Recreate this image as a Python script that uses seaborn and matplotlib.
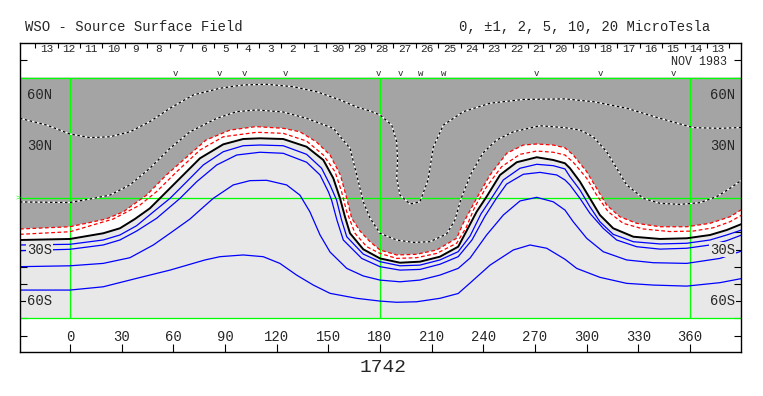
import matplotlib
matplotlib.use("Agg")
import matplotlib.pyplot as plt
import seaborn as sns

# WSO source surface field, Carrington rotation 1742
# contour lines: longitude (deg) / latitude (deg)

# -10 microtesla (dotted)
LON_NEG10 = [-29, -13.5, 0, 11.6, 23.2, 34.8, 46.4, 58.1, 71.6, 87.1, 100.6, 114.2, 129.6, 143.2,
             156.8, 166.5, 174.2, 180, 186.8, 189.7, 190.2, 189.7, 191.6, 197.4, 203.2, 207.9, 211,
             216.8, 228.4, 243.9, 263.2, 287.4, 303.8, 323.2, 342.6, 361.9, 377.4, 390]
LAT_NEG10 = [46.3, 42.4, 37.2, 35.1, 35.6, 38.5, 44.4, 52.2, 59.9, 63.8, 65.7, 66.1, 64.7, 61.8,
             57.0, 52.9, 50.6, 48.3, 42.4, 32.7, 22.1, 11.6, 1.7, -3.5, -2.2, 10.5, 29.7,
             42.4, 50.2, 55.1, 57.3, 57.6, 56.0, 52.2, 46.3, 40.9, 40.5, 41.0]

# -5 microtesla (dotted)
LON_NEG5 = [-29, 0, 11.6, 23.2, 34.8, 46.4, 58.1, 69.7, 85.2, 96.8, 108.4, 123.8, 137.4, 152.9,
            162.6, 166.5, 170.3, 174.2, 180, 189.7, 199.3, 209, 218.7, 223.5, 227, 232.8, 239.8,
            247.7, 257.4, 272.9, 287.4, 296.1, 303.8, 311.6, 317.4, 323.2, 332.9, 342.6, 354.2,
            365.8, 375.5, 383.2, 390]
LAT_NEG5 = [-2.3, -2.6, -0.6, 1.7, 7.6, 17.3, 28.9, 38.5, 46.3, 50.2, 51.2, 50.0, 46.3, 40.5,
            28.9, 13.4, -2.2, -11.6, -20.5, -24.4, -25.8, -25.4, -20.9, -12.8, -0.6, 14.0, 26.2,
            33.7, 38.5, 42.0, 40.9, 39.5, 35.6, 26.9, 17.3, 7.6, -0.2, -3.1, -3.7,
            -2.7, 0.8, 5.6, 10.5]

# -2 microtesla (red dashed, edge of the dark area)
LON_NEG2 = [-29, 0, 21, 31, 44.5, 56, 68, 79, 93, 108, 124, 133.5, 143, 151, 157, 160.7, 163.6,
            168.4, 174.2, 180, 189.7, 201.3, 212.9, 224.5, 228.4, 236.1, 243.9, 253.6, 263.2, 271,
            280.6, 287.4, 292.2, 300, 305.8, 311.6, 319.3, 329, 342.6, 358.1, 371.6, 383.2, 390]
LAT_NEG2 = [-18.0, -16.7, -12.2, -8.0, 1.7, 13.4, 24.0, 33.7, 39.5, 41.5, 40.5, 38.5, 32.7, 25.0,
            13.4, -0.2, -11.8, -19.2, -25.4, -30.2, -33.1, -32.7, -30.2, -23.4, -14.5, -0.2, 13.4,
            26.0, 30.8, 31.4, 30.8, 29.2, 25.0, 15.3, 5.6, -4.1, -10.9, -14.7, -16.7, -16.7, -14.7,
            -10.9, -6.7]

# -1 microtesla (red dashed)
LON_NEG1 = [-29, 0, 25.1, 40.6, 50.3, 62, 75.5, 89, 108.4, 123.8, 137.4, 147.1, 153.9, 157.7,
            160.7, 165.5, 172.3, 180, 189.7, 201.3, 212.9, 224.5, 229.9, 235.1, 241.9, 250.6,
            261.3, 271, 280.6, 287.4, 292.2, 300, 305.8, 312.5, 321.2, 332.9, 348.4, 361.9, 373.5,
            383.2, 390]
LAT_NEG1 = [-21.1, -19.6, -12.2, -4.1, 3.7, 15.3, 27.9, 35.6, 38.2, 37.6, 33.1, 25.0, 15.3, 3.7,
            -8.0, -20.5, -28.3, -32.2, -35.1, -34.7, -32.2, -26.3, -17.4, -5.1, 6.6, 18.2,
            25.4, 27.3, 26.6, 25.0, 20.8, 11.5, 1.7, -8.0, -14.7, -18.0, -19.5, -19.2, -17.3,
            -13.8, -9.9]

# neutral line
LON_ZERO = [-29, 0, 19.3, 29, 37.7, 46.4, 56.1, 65.8, 75.5, 89, 100.6, 110.3, 123.8, 137.4, 147.1,
            152.9, 156.8, 159.7, 162.6, 170.3, 180, 191.6, 203.2, 214.8, 225.4, 229.9, 236.1,
            241.9, 249.7, 259.4, 271, 280.6, 287.4, 290.3, 296.1, 301.9, 307.7, 315.4, 327.1,
            342.6, 358.1, 371.6, 381.3, 390]
LAT_ZERO = [-24.4, -23.8, -20.5, -17.6, -12.2, -6.0, 3.7, 13.4, 23.1, 31.2, 34.3, 34.7, 34.3, 29.8,
            22.1, 11.5, -0.2, -11.0, -20.5, -29.8, -35.1, -37.6, -37.0, -34.1, -28.3, -19.8, -8.0,
            0.8, 13.4, 20.8, 23.7, 22.1, 20.2, 17.3, 9.5, -0.2, -9.9, -17.6, -22.5,
            -23.8, -23.4, -21.5, -18.6, -15.1]

# +1 microtesla
LON_POS1 = [-29, 0, 19.3, 29, 38.7, 48.4, 58.1, 67.8, 77.4, 89, 100.6, 110.3, 123.8, 137.4, 146.1,
            151, 154.8, 157.7, 160.7, 170.3, 180, 191.6, 203.2, 214.8, 225.4, 232.3, 238.6, 244.8,
            251.6, 261.3, 271, 280.6, 287.4, 290.3, 296.1, 301.9, 307.7, 315.4, 327.1, 342.6,
            358.1, 371.6, 381.3, 390]
LAT_POS1 = [-27.3, -26.9, -24.4, -21.5, -16.1, -8.1, -0.2, 9.5, 19.2, 26.9, 30.4, 30.8, 30.4, 25.4,
            17.3, 7.6, -1.2, -12.8, -22.5, -32.6, -37.0, -39.4, -39.0, -36.0, -31.2, -22.1, -9.3,
            0.0, 10.5, 17.3, 19.6, 18.8, 16.9, 12.4, 4.7, -5.1, -13.8, -21.1, -25.4, -26.7,
            -26.3, -24.4, -21.5, -18.6]

# +2 microtesla
LON_POS2 = [-29, 0, 19.3, 29, 38.7, 50.3, 63.9, 73.6, 85.2, 96.8, 110.3, 123.8, 137.4, 145.2, 150,
            151.9, 155, 158.7, 169.4, 180, 191.6, 203.2, 214.8, 225.4, 233.4, 241, 247.7, 253.5,
            263.2, 272.9, 282.6, 287.4, 290.3, 296.1, 301.9, 309.6, 317.4, 329, 342.6, 358.1,
            371.6, 381.3, 390]
LAT_POS2 = [-30.6, -29.8, -27.3, -24.4, -19.2, -11.8, -0.2, 9.5, 19.2, 25.0, 26.6, 26.0, 20.8, 13.4,
            3.7, -1.2, -12.8, -24.4, -35.1, -39.9, -41.9, -41.5, -38.5, -34.1, -24.4, -10.5, 0.0,
            8.1, 13.8, 14.9, 13.4, 10.5, 7.6, -0.2, -8.9, -17.6, -24.4, -28.3, -29.7, -29.2,
            -27.3, -24.8, -21.5]

# +5 microtesla
LON_POS5 = [-29, 0, 19.3, 34.8, 48.4, 58.1, 69.7, 75.5, 83.2, 94.8, 104.5, 114.2, 125.8, 133.5,
            139.3, 145.2, 151, 160.7, 170.3, 180, 191.6, 203.2, 214.8, 225.4, 232.3, 241.9, 251.6,
            261.3, 271, 280.6, 287.4, 292.2, 300, 309.6, 323.2, 338.7, 358.1, 377.4, 390]
LAT_POS5 = [-39.9, -39.4, -38.0, -34.7, -27.3, -20.5, -12.2, -7.0, -0.2, 7.6, 10.1, 10.3, 7.6, 1.7,
            -8.0, -21.5, -31.4, -40.9, -45.3, -47.7, -48.7, -47.7, -44.8, -40.9, -34.9, -21.5,
            -9.9, -1.7, 0.4, -2.2, -7.0, -13.8, -23.4, -31.2, -36.0, -37.6, -38.0, -35.1, -30.8]

# +10 microtesla
LON_POS10 = [-29, 0, 19.3, 38.7, 58.1, 78.4, 87.1, 100.6, 112.2, 121.9, 131.6, 141.3, 151, 166.5,
             180, 189.7, 201.3, 214.8, 225.4, 232.3, 243.9, 257.4, 267.1, 276.8, 287.4, 294.2,
             307.7, 323.2, 338.7, 358.1, 377.4, 390]
LAT_POS10 = [-53.5, -53.5, -51.6, -46.7, -41.9, -36.0, -34.1, -33.1, -34.1, -38.0, -44.8, -50.6,
             -55.4, -58.3, -59.9, -60.6, -60.3, -58.3, -55.5, -49.4, -39.0, -30.2, -27.3, -29.2,
             -35.6, -40.9, -46.1, -49.6, -50.6, -51.2, -49.2, -46.8]

# axis labels
X_TICKS = [0, 30, 60, 90, 120, 150, 180, 210, 240, 270, 300, 330, 360]
LAT_TICKS = [60, 30, -30, -60]
LAT_LABELS = ['60N', '30N', '30S', '60S']
DAY_LABELS = [13, 12, 11, 10, 9, 8, 7, 6, 5, 4, 3, 2, 1,
              30, 29, 28, 27, 26, 25, 24, 23, 22, 21, 20, 19, 18, 17, 16, 15, 14, 13]
MARK_LON = [61.0, 86.7, 101.2, 124.8, 179.0, 192.0, 203.6, 216.8, 271.0, 308.1, 350.3]
MARK_SYM = ['v', 'v', 'v', 'v', 'v', 'v', 'w', 'w', 'v', 'v', 'v']

DARK = '#A4A4A4'
LIGHT = '#E8E8E8'
GREEN = '#00FF00'

sns.set_style("white")
plt.rcParams['font.family'] = ['Liberation Mono', 'DejaVu Sans']

fig = plt.figure(figsize=(7.63, 3.96), dpi=100)
ax = fig.add_axes([20 / 763, 44 / 396, 721 / 763, 309 / 396])
ax.set_xlim(-29, 389.6)
ax.set_ylim(-89.5, 90.1)

# shading: positive light, 0..-2 white, below -2 dark
ax.axhspan(-70, 70, color=LIGHT, lw=0, zorder=0)
ax.fill(LON_NEG2 + [390, -29], LAT_NEG2 + [70, 70], color=DARK, lw=0, zorder=1)
ax.fill(LON_NEG2 + LON_ZERO[::-1], LAT_NEG2 + LAT_ZERO[::-1], color='white', lw=0, zorder=1)

# grid lines
for lat in [70, 0, -70]:
    ax.axhline(lat, color=GREEN, lw=0.9, zorder=2)
ax.vlines([0, 180, 360], -70, 70, color=GREEN, lw=0.9, zorder=2)


def contour(lon, lat, **kw):
    sns.lineplot(x=lon, y=lat, sort=False, estimator=None, ax=ax,
                 solid_joinstyle='round', dash_joinstyle='round', **kw)


for lon, lat in [(LON_NEG10, LAT_NEG10), (LON_NEG5, LAT_NEG5)]:
    contour(lon, lat, color='white', linewidth=0.9, zorder=3)
    contour(lon, lat, color='black', linewidth=0.9, linestyle=(0, (2, 2)), zorder=3)
for lon, lat in [(LON_NEG2, LAT_NEG2), (LON_NEG1, LAT_NEG1)]:
    contour(lon, lat, color='red', linewidth=0.9, linestyle=(0, (3, 2)), zorder=3)
for lon, lat in [(LON_POS1, LAT_POS1), (LON_POS2, LAT_POS2), (LON_POS5, LAT_POS5),
                 (LON_POS10, LAT_POS10)]:
    contour(lon, lat, color='blue', linewidth=0.9, zorder=3)
contour(LON_ZERO, LAT_ZERO, color='black', linewidth=1.4, zorder=3)

# ticks
ax.set_xticks(X_TICKS)
ax.set_yticks(range(-80, 90, 10))
ax.tick_params(axis='x', direction='in', length=5.8, width=0.8, color='black',
               bottom=True, top=False, labelbottom=False)
ax.tick_params(axis='y', direction='in', length=4.8, width=0.8, color='black',
               left=True, right=True, labelleft=False, labelright=False)
for s in ax.spines.values():
    s.set_color('black')
    s.set_linewidth(1.0)
    s.set_zorder(6)

for x in X_TICKS:
    ax.text(x, -81, str(x), ha='center', va='center', fontsize=10, zorder=5)

for lat, lab in zip(LAT_TICKS, LAT_LABELS):
    fc = DARK if lat > 0 else LIGHT
    box = dict(boxstyle='square,pad=0.05', fc=fc, ec='none')
    ax.text(-25, lat, lab, ha='left', va='center', fontsize=10, bbox=box, zorder=5)
    ax.text(386.1, lat, lab, ha='right', va='center', fontsize=10, bbox=box, zorder=5)

# day-of-month strip along the top
day0, day_step = -13.7, 13.0
for i, d in enumerate(DAY_LABELS):
    ax.text(day0 + i * day_step, 86.6, str(d), ha='center', va='center', fontsize=8, zorder=5)
ax.vlines([day0 + (i - 0.5) * day_step for i in range(len(DAY_LABELS) + 1)], 87.0, 90.1,
          color='black', lw=0.8, zorder=5)
ax.text(381.5, 79.0, 'NOV 1983', ha='right', va='center', fontsize=8.5, zorder=5)

for lon, sym in zip(MARK_LON, MARK_SYM):
    ax.text(lon, 72.4, sym, ha='center', va='center', fontsize=6.5, zorder=5)

fig.text(15 / 763, 1 - 198 / 396, '>', color=GREEN, fontsize=6, ha='left', va='center')
fig.text(25 / 763, 1 - 27 / 396, 'WSO - Source Surface Field', fontsize=10, ha='left', va='center')
fig.text(710 / 763, 1 - 27 / 396, '0, \u00b11, 2, 5, 10, 20 MicroTesla', fontsize=10,
         ha='right', va='center')
fig.text(383 / 763, 1 - 367 / 396, '1742', fontsize=14, ha='center', va='center')

fig.savefig('out.png', dpi=100)
